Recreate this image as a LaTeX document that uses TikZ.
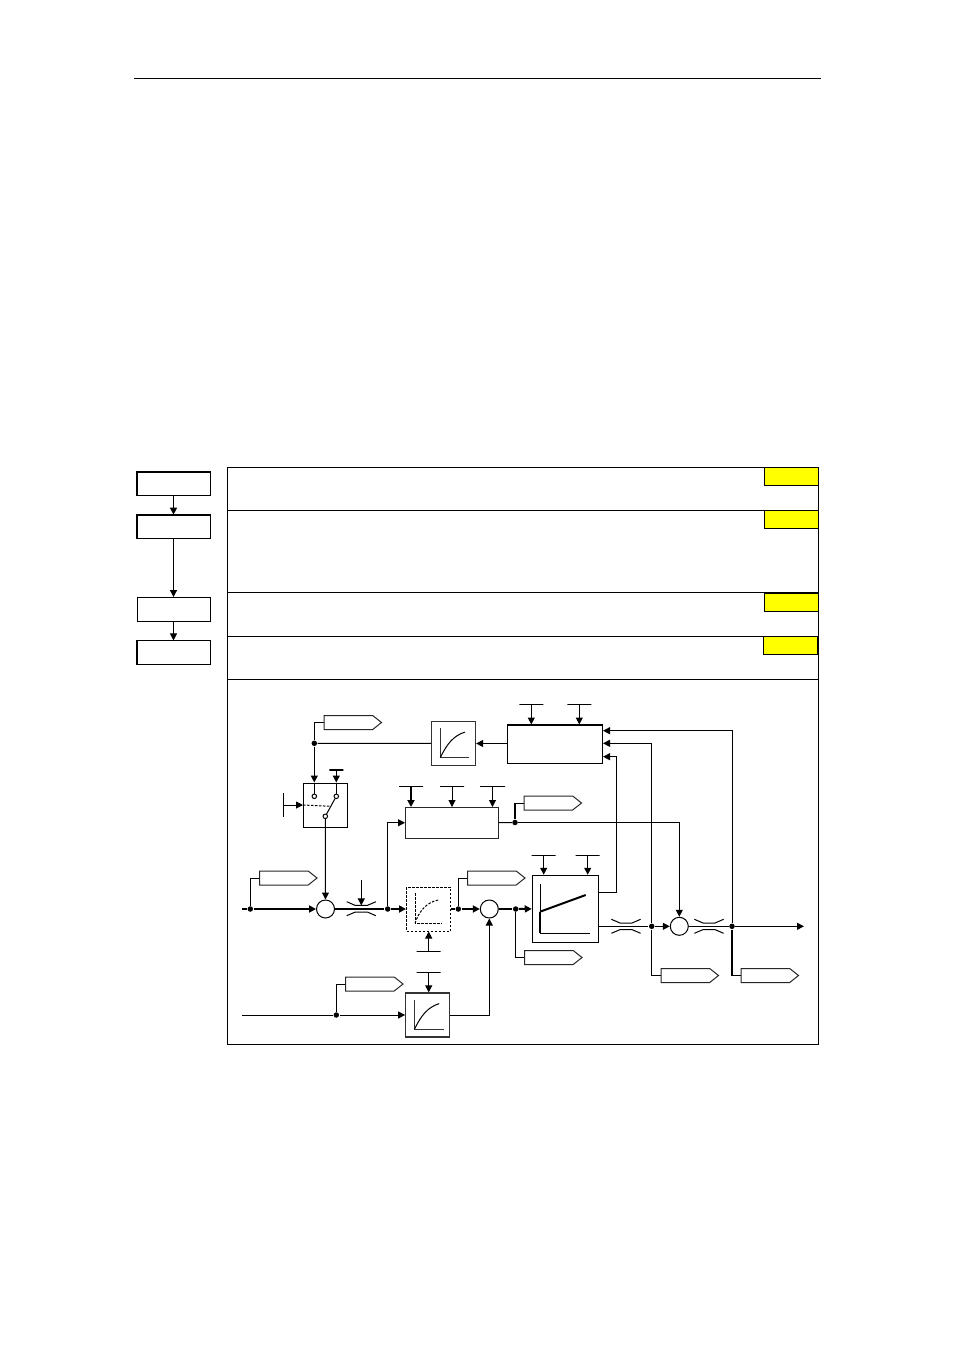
\documentclass[tikz,border=0pt]{standalone}
\usepackage{xcolor}
\usetikzlibrary{arrows.meta,calc,positioning,shapes.symbols}
\definecolor{markyellow}{HTML}{FFFF00}

\begin{document}
\begin{tikzpicture}[
    x=1pt,y=-1pt,line width=1pt,
    >={Triangle[length=7pt,width=7pt]},
    flowbox/.style={draw,minimum width=73pt,minimum height=23.5pt,inner sep=0pt},
    markbox/.style={draw,fill=markyellow,minimum width=54pt,minimum height=18pt,inner sep=0pt},
    block/.style={draw,inner sep=0pt},
    lagbox/.style={block,black!80,line width=1.25pt,minimum size=44pt},
    tag/.style={draw,shape=signal,signal to=east,signal pointer angle=77,anchor=west,
      minimum width=57.5pt,minimum height=14pt,inner sep=0pt,black!85},
    sumnode/.style={draw,circle,minimum size=18pt,inner sep=0pt},
    dot/.style={fill,circle,minimum size=5.5pt,inner sep=0pt},
    contact/.style={draw,fill=white,circle,minimum size=4.5pt,inner sep=0pt},
    bar/.style={draw,minimum width=24pt,minimum height=0pt,inner sep=0pt},
    sig/.style={->},
    heavy/.style={line width=2pt},
    shortdash/.style={dash pattern=on 2.5pt off 1.5pt},
  ]
    \useasboundingbox (0,0) rectangle (954,1350);
    \coordinate (ruleL) at (134,78.7);
    \coordinate (ruleR) at (821,78.7);
    \draw (ruleL) -- (ruleR);

    % steps on the left
    \node[flowbox] (flow1) at (173.5,483.9) {};
    \node[flowbox] (flow2) at (173.5,526.9) {};
    \node[flowbox] (flow3) at (173.5,609.3) {};
    \node[flowbox] (flow4) at (173.5,652.7) {};
    \foreach \flow in {flow1,flow2,flow4}
      \draw[line width=1.4pt] (\flow.south west) |- (\flow.north east);
    \draw[sig] (flow1) -- (flow2);
    \draw[sig] (flow2) -- (flow3);
    \draw[sig] (flow3) -- (flow4);

    % frame with its rows
    \node[draw,inner sep=0pt,minimum width=591pt,minimum height=577.5pt] (frame) at (523,755.75) {};
    \foreach \rowy in {510,592,636,679}
      \draw (frame.west |- 0,\rowy) -- (frame.east |- 0,\rowy);
    \node[markbox] (mark1) at (791.5,476) {};
    \node[markbox] (mark2) at (791.5,519.5) {};
    \node[markbox] (mark3) at (791.5,602) {};
    \node[markbox] (mark4) at (790.5,645) {};

    % blocks
    \node[block,minimum width=95pt,minimum height=38.5pt] (limit) at (555,744.25) {};
    \draw[heavy] (limit.north west) -- (limit.north east);
    \node[lagbox] (lagtop) at (453.5,743.5) {};
    \node[block,minimum size=44pt] (switch) at (325.5,805) {};
    \node[block,black!85,minimum width=92.5pt,minimum height=30.5pt] (ctrl) at (451.75,822.75) {};
    \node[block,shortdash,minimum size=44pt] (lagdash) at (428.5,909) {};
    \node[lagbox] (lagbot) at (427.75,1015) {};
    \node[block,minimum width=66.5pt,minimum height=67pt] (ramp) at (565.5,908.75) {};

    \node[sumnode] (sum1) at (325.5,909) {};
    \node[sumnode] (sum2) at (489.3,909) {};
    \node[sumnode] (sum3) at (679.3,926.3) {};

    \node[tag] (tagSw) at (323.5,722.5) {};
    \node[tag] (tagIn) at (259,878) {};
    \node[tag] (tagLag) at (467,878) {};
    \node[tag] (tagCtrl) at (523.5,803) {};
    \node[tag] (tagAdd) at (345,984) {};
    \node[tag] (tagSum) at (524,957.5) {};
    \node[tag] (tagOut1) at (660.5,975.5) {};
    \node[tag] (tagOut2) at (740.5,975.5) {};

    % setpoint bars
    \node[bar] (barA) at (531.3,704.3) {};
    \node[bar] (barB) at (579.3,704.3) {};
    \node[bar,minimum width=14pt,heavy] (barC) at (336.3,770) {};
    \node[bar] (barD) at (411,786.3) {};
    \node[bar] (barE) at (452,786.3) {};
    \node[bar,minimum width=25pt] (barF) at (492.5,786.3) {};
    \node[bar] (barG) at (543.7,855.3) {};
    \node[bar] (barH) at (587.7,855.3) {};
    \node[bar] (barJ) at (428.7,951.3) {};
    \node[bar] (barK) at (428.7,972.7) {};
    \coordinate (barS) at (283.5,805);
    \draw (283.5,793) -- (283.5,817);
    \coordinate (pinchArrow) at (361.3,880);

    \draw[sig] (barA) -- (barA |- limit.north);
    \draw[sig] (barB) -- (barB |- limit.north);
    \draw[sig] (barC) -- (barC |- switch.north);
    \draw[sig,heavy] (barD) -- (barD |- ctrl.north);
    \draw[sig] (barE) -- (barE |- ctrl.north);
    \draw[sig] (barF) -- (barF |- ctrl.north);
    \draw[sig] (barG) -- (barG |- ramp.north);
    \draw[sig] (barH) -- (barH |- ramp.north);
    \draw[sig] (barJ) -- (barJ |- lagdash.south);
    \draw[sig] (barK) -- (barK |- lagbot.north);
    \draw[sig] (barS) -- (barS -| switch.west);

    % switch inside
    \node[contact] (conA) at (314.3,796.3) {};
    \node[contact] (conB) at (336.3,796.3) {};
    \node[contact] (conC) at (325.3,816.3) {};
    \draw (conA |- switch.north) -- (conA);
    \draw (conB |- switch.north) -- (conB);
    \draw (conC) -- (conB);
    \draw[shortdash] (barS -| switch.west) -- ($(conC)!0.5!(conB)$ |- barS);

    % wires
    \node[dot] (dotSw) at (314.3,743.3) {};
    \node[dot] (dotIn) at (250.3,909) {};
    \node[dot] (dotFb) at (387.7,909) {};
    \node[dot] (dotLag) at (458.3,909) {};
    \node[dot] (dotSum) at (515.7,909) {};
    \node[dot] (dotAdd) at (336.3,1015) {};
    \node[dot] (dotCtrl) at (515,822.5) {};
    \node[dot] (dotOut1) at (651.7,926.3) {};
    \node[dot] (dotOut2) at (732,926.3) {};
    \coordinate (inTop) at (242,909);
    \coordinate (inBot) at (242,1015);
    \coordinate (outEnd) at (804,926.3);

    \draw[sig] (limit.west |- lagtop) -- (lagtop);
    \draw (lagtop) -- (dotSw);
    \draw[sig] (dotSw) -- (dotSw |- switch.north);
    \draw (dotSw) |- (tagSw.west);
    \draw[sig] (conC) -- (sum1);
    \draw[heavy] (inTop) -- (dotIn);
    \draw[sig,heavy] (dotIn) -- (sum1);
    \draw (dotIn) |- (tagIn.west);
    \draw[heavy] (sum1) -- (dotFb);
    \draw[sig,heavy] (dotFb) -- (lagdash);
    \draw[sig] (dotFb) |- (ctrl.west);
    \draw (ctrl) -- (dotCtrl);
    \draw (dotCtrl) |- (tagCtrl.west);
    \draw[heavy] (dotCtrl) -- (dotCtrl |- tagCtrl);
    \draw[sig] (dotCtrl) -| (sum3);
    \draw[heavy] (lagdash) -- (dotLag);
    \draw[sig,heavy] (dotLag) -- (sum2);
    \draw (dotLag) |- (tagLag.west);
    \draw[heavy] (sum2) -- (dotSum);
    \draw[sig,heavy] (dotSum) -- (ramp);
    \draw (dotSum) |- (tagSum.west);
    \draw (inBot) -- (dotAdd);
    \draw[sig] (dotAdd) -- (lagbot);
    \draw (dotAdd) |- (tagAdd.west);
    \draw[sig] (lagbot) -| (sum2);
    \draw[sig] (ramp.east |- 0,892.3) -| (616.7,756.7) -- (limit.east |- 0,756.7);
    \draw (ramp.east |- dotOut1) -- (dotOut1);
    \draw[sig] (dotOut1) -- (sum3);
    \draw[sig] (dotOut1) |- (limit.east |- 0,743.3);
    \draw (dotOut1) |- (tagOut1.west);
    \draw (sum3) -- (dotOut2);
    \draw[sig] (dotOut2) -- (outEnd);
    \draw[sig] (dotOut2) |- (limit.east |- 0,730.7);
    \draw (dotOut2) |- (tagOut2.west);
    \draw[heavy] (dotOut2) -- (dotOut2 |- tagOut2);

    % pinches on the lines
    \coordinate (pinch1) at (361.3,908.7);
    \coordinate (pinch2) at (626,926.3);
    \coordinate (pinch3) at (709,926.3);
    \foreach \pinch in {pinch1,pinch2,pinch3} {
      \draw (\pinch) ++(-14.6,-7) -- ++(8.6,3.7) -- ++(12,0) -- ++(8.6,-3.7);
      \draw (\pinch) ++(-14.6,7) -- ++(8.6,-3.7) -- ++(12,0) -- ++(8.6,3.7);
    }
    \draw[sig] (pinchArrow) -- (pinchArrow |- 0,905.4);

    % curves in the blocks
    \foreach \lag in {lagtop,lagbot}
      \draw[black!80] ([shift={(-13.2,-15.4)}]\lag.center) -- ([shift={(-13.2,14.2)}]\lag.center)
        -- ([shift={(15.8,14.2)}]\lag.center);
    \draw ([shift={(-13.2,14.2)}]lagtop.center) .. controls ([shift={(-7,1)}]lagtop.center) and ([shift={(0,-8)}]lagtop.center) .. ([shift={(11.5,-11.4)}]lagtop.center);
    \draw ([shift={(-13.2,14.2)}]lagbot.center) .. controls ([shift={(-7,1)}]lagbot.center) and ([shift={(0,-8)}]lagbot.center) .. ([shift={(11.5,-11.4)}]lagbot.center);
    \draw[shortdash] (415,893.3) -- (415,923.3) -- (442.3,923.3);
    \draw[shortdash] (415,923.3) .. controls (419,911) and (427,902) .. (438.3,900);
    \draw (540,884.3) -- (540,911.7);
    \draw[heavy] (540,911.7) -- (540,933.3);
    \draw (540,933.3) -- (590,933.3);
    \draw[heavy] (540,911.7) -- (585.7,895);
  \end{tikzpicture}
\end{document}
